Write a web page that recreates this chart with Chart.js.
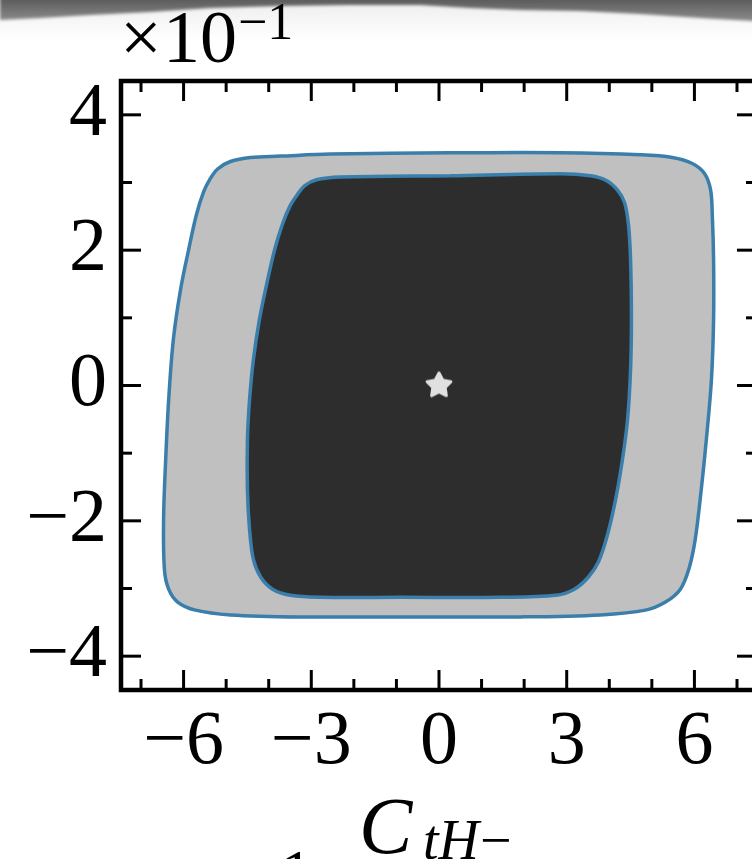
<!DOCTYPE html>
<html>
<head>
<meta charset="utf-8">
<script src="https://cdn.jsdelivr.net/npm/chart.js@4.4.0/dist/chart.umd.min.js"></script>
<style>
  html, body { margin: 0; padding: 0; background: #fff; overflow: hidden; }
  #wrap { width: 790px; height: 859px; }
</style>
</head>
<body>
<div id="wrap"><canvas id="chart" width="790" height="859" style="width:790px;height:859px"></canvas></div>
<script>
// 95% region (outer) and 68% region (inner) in the C_tH- / y plane
const outerX = [0.27, 2.85, 4.73, 5.48, 5.95, 6.24, 6.38, 6.42, 6.45, 6.45, 6.40, 6.28, 6.16, 6.02, 5.88,
  5.67, 5.32, 4.85, 3.79, 1.91, -0.43, -3.25, -4.90, -5.72, -6.14, -6.35, -6.45, -6.47, -6.42, -6.35,
  -6.24, -6.07, -5.88, -5.70, -5.53, -5.39, -5.20, -4.90, -4.43, -3.72, -2.55]
const outerY = [0.344, 0.344, 0.341, 0.337, 0.328, 0.313, 0.289, 0.252, 0.186, 0.097, 0.009, -0.080, -0.154, -0.227, -0.269,
  -0.301, -0.320, -0.332, -0.339, -0.342, -0.342, -0.342, -0.339, -0.332, -0.320, -0.301, -0.272, -0.198, -0.109, -0.021,
  0.068, 0.142, 0.201, 0.252, 0.286, 0.304, 0.320, 0.331, 0.337, 0.339, 0.342]

const innerX = [0.27, 2.85, 3.56, 3.93, 4.19, 4.36, 4.45, 4.50, 4.52, 4.50, 4.43, 4.31, 4.15, 3.96, 3.75,
  3.51, 3.18, 2.74, 1.44, -0.90, -2.78, -3.49, -3.91, -4.19, -4.36, -4.45, -4.50, -4.50, -4.45, -4.36,
  -4.22, -4.05, -3.86, -3.68, -3.51, -3.35, -3.16, -2.88, -2.31]
const innerY = [0.310, 0.313, 0.310, 0.303, 0.289, 0.270, 0.238, 0.186, 0.097, 0.024, -0.050, -0.109, -0.168, -0.220, -0.260,
  -0.283, -0.301, -0.310, -0.313, -0.313, -0.313, -0.310, -0.301, -0.283, -0.257, -0.213, -0.154, -0.080, -0.021, 0.038,
  0.097, 0.149, 0.201, 0.238, 0.264, 0.280, 0.295, 0.304, 0.308]

// best fit point
const bestX = [0]
const bestY = [0]

// ticks (y axis is shown in units of 10^-1)
const xMajor = [-6, -3, 0, 3, 6]
const xMinor = [-7, -5, -4, -2, -1, 1, 2, 4, 5, 7]
const yMajor = [-0.4, -0.2, 0, 0.2, 0.4]
const yMinor = [-0.3, -0.1, 0.1, 0.3]

const SERIF = '"Liberation Serif", "DejaVu Serif", serif'

function closedLoop(xs, ys) {
  const pts = xs.map((x, i) => ({ x: x, y: ys[i] }))
  pts.push({ ...pts[0] })
  return pts
}

function fmt(v) {
  return String(Math.round(v)).replace('-', '\u2212')
}

function starImage() {
  const c = document.createElement('canvas')
  c.width = c.height = 36
  const g = c.getContext('2d')
  g.translate(18, 18)
  g.beginPath()
  for (let i = 0; i < 10; i++) {
    const r = i % 2 ? 6.5 : 12.5
    const a = -Math.PI / 2 + i * Math.PI / 5
    g.lineTo(r * Math.cos(a), r * Math.sin(a))
  }
  g.closePath()
  g.fillStyle = '#e0e0e0'
  g.strokeStyle = '#e0e0e0'
  g.lineJoin = 'round'
  g.lineWidth = 3
  g.fill()
  g.stroke()
  return c
}

// white page with the dark torn strip along the top, frame, ticks and labels
const paper = {
  id: 'paper',
  beforeDraw(chart) {
    const ctx = chart.ctx
    const w = chart.width
    ctx.save()
    ctx.fillStyle = '#fff'
    ctx.fillRect(0, 0, w, chart.height)

    const haze = ctx.createLinearGradient(0, 0, 0, 40)
    haze.addColorStop(0, 'rgba(0,0,0,0.07)')
    haze.addColorStop(1, 'rgba(0,0,0,0)')
    ctx.fillStyle = haze
    ctx.fillRect(0, 0, w, 40)

    const edge = [[0, 20], [40, 18], [90, 15], [150, 12], [210, 8], [280, 6], [350, 5], [420, 5],
      [470, 8], [520, 10], [580, 11], [640, 14], [700, 18], [752, 21], [790, 22]]
    ctx.filter = 'blur(1.5px)'
    const band = ctx.createLinearGradient(0, 0, 0, 22)
    band.addColorStop(0, '#5c5c5c')
    band.addColorStop(1, '#8e8e8e')
    ctx.fillStyle = band
    ctx.beginPath()
    ctx.moveTo(0, -5)
    ctx.lineTo(w, -5)
    for (let i = edge.length - 1; i >= 0; i--) ctx.lineTo(edge[i][0], edge[i][1])
    ctx.closePath()
    ctx.fill()
    ctx.restore()
  },
  afterDraw(chart) {
    const ctx = chart.ctx
    const a = chart.chartArea
    const sx = chart.scales.x
    const sy = chart.scales.y
    ctx.save()
    ctx.strokeStyle = '#000'
    ctx.lineCap = 'butt'

    // inward ticks on all four sides
    ctx.lineWidth = 3
    const tick = (x1, y1, x2, y2) => { ctx.beginPath(); ctx.moveTo(x1, y1); ctx.lineTo(x2, y2); ctx.stroke() }
    xMajor.concat(xMinor).forEach(v => {
      const len = xMajor.includes(v) ? 20 : 11
      const px = sx.getPixelForValue(v)
      tick(px, a.bottom, px, a.bottom - len)
      tick(px, a.top, px, a.top + len)
    })
    yMajor.concat(yMinor).forEach(v => {
      const len = yMajor.includes(v) ? 20 : 11
      const py = sy.getPixelForValue(v)
      tick(a.left, py, a.left + len, py)
      tick(a.right, py, a.right - len, py)
    })

    // frame
    ctx.lineWidth = 4.5
    ctx.strokeRect(a.left, a.top, a.right - a.left, a.bottom - a.top)

    // offset text for the y axis
    ctx.fillStyle = '#000'
    ctx.textBaseline = 'alphabetic'
    ctx.font = '74px ' + SERIF
    ctx.fillText('\u00d7', 120, 62)
    ctx.fillText('10', 163, 62)
    ctx.font = '52px ' + SERIF
    ctx.fillText('\u22121', 238, 39)

    // x axis title C_{tH-}
    ctx.font = 'italic 80px ' + SERIF
    ctx.fillText('C', 359, 853)
    ctx.font = 'italic 56px ' + SERIF
    ctx.fillText('tH', 423, 859)
    const subW = ctx.measureText('tH').width
    ctx.font = '56px ' + SERIF
    ctx.fillText('\u2212', 423 + subW + 1, 859)

    // top of the next panel's label, cut by the bottom edge
    ctx.font = '62px ' + SERIF
    ctx.fillText('1', 281, 892)
    ctx.restore()
  }
}

const chart = new Chart(document.getElementById('chart'), {
  type: 'scatter',
  data: {
    datasets: [
      {
        label: 'best fit',
        data: bestX.map((x, i) => ({ x: x, y: bestY[i] })),
        pointStyle: starImage(),
        pointRadius: 14,
        showLine: false,
        order: 0
      },
      {
        label: '68%',
        data: closedLoop(innerX, innerY),
        showLine: true,
        fill: 'shape',
        backgroundColor: '#2d2d2d',
        borderColor: '#3a7eab',
        borderWidth: 3.5,
        tension: 0.35,
        pointRadius: 0,
        order: 1
      },
      {
        label: '95%',
        data: closedLoop(outerX, outerY),
        showLine: true,
        fill: 'shape',
        backgroundColor: '#c0c0c0',
        borderColor: '#3a7eab',
        borderWidth: 3.5,
        tension: 0.35,
        pointRadius: 0,
        order: 2
      }
    ]
  },
  options: {
    responsive: false,
    animation: false,
    events: [],
    layout: { padding: { top: 81, right: 33, bottom: 0, left: 0 } },
    plugins: {
      legend: { display: false },
      tooltip: { enabled: false }
    },
    scales: {
      x: {
        type: 'linear',
        min: -7.47,
        max: 7.47,
        afterBuildTicks: s => { s.ticks = xMajor.map(v => ({ value: v })) },
        afterFit: s => { s.height = 169 },
        grid: { display: false, drawTicks: false },
        border: { display: false },
        ticks: {
          color: '#000',
          padding: 7,
          maxRotation: 0,
          autoSkip: false,
          font: { family: SERIF, size: 76 },
          callback: v => fmt(v)
        }
      },
      y: {
        type: 'linear',
        min: -0.45,
        max: 0.45,
        afterBuildTicks: s => { s.ticks = yMajor.map(v => ({ value: v })) },
        afterFit: s => { s.width = 121 },
        grid: { display: false, drawTicks: false },
        border: { display: false },
        ticks: {
          color: '#000',
          padding: 14,
          autoSkip: false,
          font: { family: SERIF, size: 76 },
          callback: v => fmt(v * 10)
        }
      }
    }
  },
  plugins: [paper]
})
</script>
</body>
</html>
